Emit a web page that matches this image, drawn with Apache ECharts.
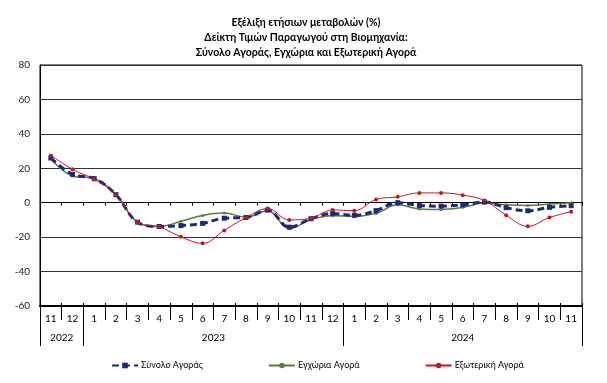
<!DOCTYPE html>
<html>
<head>
<meta charset="utf-8">
<script src="https://cdn.jsdelivr.net/npm/echarts@6/dist/echarts.min.js"></script>
<style>
html,body{margin:0;padding:0;background:#fff;}
#chart{width:607px;height:383px;}
</style>
</head>
<body>
<div id="chart"></div>
<script>
var months = ['11','12','1','2','3','4','5','6','7','8','9','10','11','12','1','2','3','4','5','6','7','8','9','10','11'];
var yearLabels = ['2022','2023','2024'];
var yTicks = [-60,-40,-20,0,20,40,60,80];
var seriesNames = ['Σύνολο Αγοράς','Εγχώρια Αγορά','Εξωτερική Αγορά'];
var totalMarket = [26, 16.5, 14, 4.7, -11.3, -13.8, -13.3, -12, -9, -8.6, -4.3, -14.2, -9.3, -6.3, -7.3, -4.6, 0, -1.6, -2, -1.2, 0.4, -2.9, -4.7, -2.7, -1.7];
var domesticMarket = [25.5, 15.5, 14, 4.7, -11.3, -13.8, -10.8, -7.4, -6, -8.4, -4.6, -15, -9.7, -7.5, -8, -6.2, -1.2, -3.6, -3.9, -2.7, -0.2, -1.2, -1.6, -0.8, 0];
var exportMarket = [27.5, 19.4, 13.5, 4.7, -11.3, -14, -19.8, -23.6, -16.1, -8.6, -3.4, -10, -9, -4.2, -4.6, 1.9, 3.4, 5.7, 5.7, 4.4, 1.3, -7.3, -13.7, -8.6, -5.2];

var FONT = 'Lato, "Noto Sans", sans-serif';
var n = months.length;
var bounds = [0];
for (var i = 1; i < n; i++) { if (months[i] === '1') bounds.push(i); }
bounds.push(n);
var yearCenters = [];
for (var k = 0; k < yearLabels.length; k++) yearCenters.push((bounds[k] + bounds[k + 1]) / 2);

var chart = echarts.init(document.getElementById('chart'), null, {renderer: 'canvas'});
chart.setOption({
  animation: false,
  backgroundColor: '#fff',
  title: {
    text: 'Εξέλιξη ετήσιων μεταβολών (%)\nΔείκτη Τιμών Παραγωγού στη Βιομηχανία:\nΣύνολο Αγοράς, Εγχώρια και Εξωτερική Αγορά',
    left: 301, top: 10, textAlign: 'center',
    textStyle: {fontFamily: FONT, fontSize: 10.5, fontWeight: 'bold', color: '#000', lineHeight: 15, align: 'center'}
  },
  legend: {
    data: seriesNames,
    top: 356, left: 106,
    itemWidth: 26, itemHeight: 7, itemGap: 65,
    textStyle: {fontFamily: FONT, fontSize: 9, color: '#000', padding: [0, 0, 0, -2]}
  },
  grid: {left: 40, right: 25, top: 65, bottom: 77, show: true, borderColor: '#000', borderWidth: 1},
  xAxis: [
    {
      type: 'category', data: months, position: 'bottom', boundaryGap: true,
      axisLine: {onZero: false, lineStyle: {color: '#000', width: 2}},
      axisTick: {show: true, interval: 0, length: 14, lineStyle: {color: '#000'}},
      axisLabel: {interval: 0, margin: 8, fontFamily: FONT, fontSize: 10, color: '#000'},
      splitLine: {show: false}
    },
    {
      type: 'category', data: months, position: 'bottom', boundaryGap: true,
      axisLine: {onZero: true, lineStyle: {color: '#000', width: 1}},
      axisTick: {show: true, interval: 0, length: 3, inside: false, lineStyle: {color: '#000'}},
      axisLabel: {show: false}, splitLine: {show: false}
    },
    {
      type: 'category', data: months, position: 'bottom', boundaryGap: true,
      axisLine: {onZero: true, lineStyle: {color: '#000', width: 1}},
      axisTick: {show: true, interval: 0, length: 3, inside: true, lineStyle: {color: '#000'}},
      axisLabel: {show: false}, splitLine: {show: false}
    },
    {
      type: 'value', min: 0, max: n, position: 'bottom',
      axisLine: {show: false, onZero: false},
      axisTick: {show: true, customValues: bounds, length: 40, lineStyle: {color: '#000'}},
      axisLabel: {
        customValues: yearCenters, margin: 27, fontFamily: FONT, fontSize: 10, color: '#000',
        formatter: function (v) {
          var idx = yearCenters.indexOf(v);
          return idx >= 0 ? yearLabels[idx] : '';
        }
      },
      splitLine: {show: false}
    }
  ],
  yAxis: {
    type: 'value', min: yTicks[0], max: yTicks[yTicks.length - 1], interval: 20,
    axisLine: {show: true, onZero: false, lineStyle: {color: '#000'}},
    axisTick: {show: false},
    axisLabel: {margin: 10, fontFamily: FONT, fontSize: 10, color: '#222'},
    splitLine: {show: true, lineStyle: {color: '#333', width: 1}}
  },
  series: [
    {
      name: seriesNames[1], type: 'line', data: domesticMarket, smooth: 0.4, z: 3,
      symbol: 'circle', symbolSize: 3,
      itemStyle: {color: '#5B7B3C'},
      lineStyle: {color: '#5B7B3C', width: 1.5}
    },
    {
      name: seriesNames[0], type: 'line', data: totalMarket, smooth: 0.4, z: 4,
      symbol: 'rect', symbolSize: 5,
      itemStyle: {color: '#1C2A7A'},
      lineStyle: {color: '#1C2A7A', width: 3, type: [7, 4]}
    },
    {
      name: seriesNames[2], type: 'line', data: exportMarket, smooth: 0.4, z: 5,
      symbol: 'circle', symbolSize: 4,
      itemStyle: {color: '#C01A24'},
      lineStyle: {color: '#C01A24', width: 1}
    }
  ]
});
</script>
</body>
</html>
